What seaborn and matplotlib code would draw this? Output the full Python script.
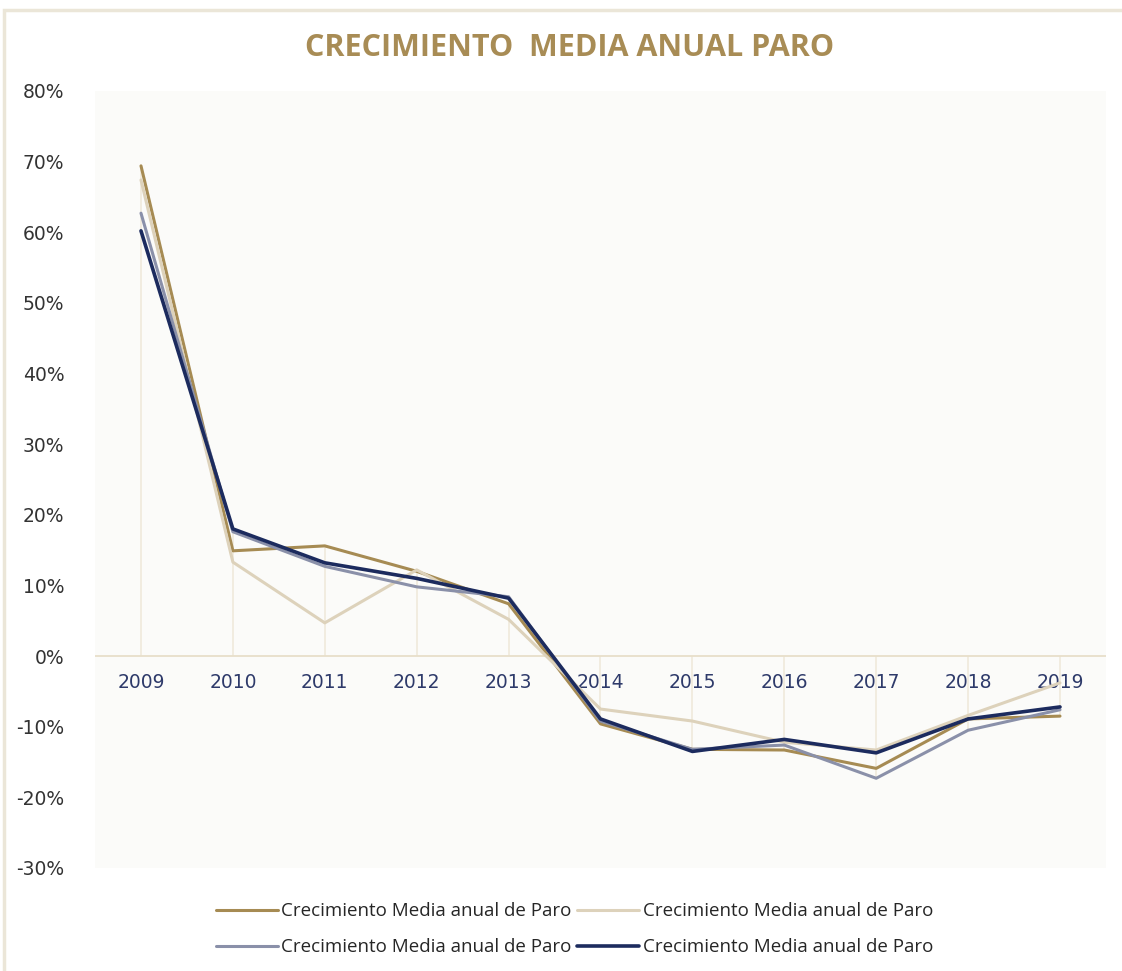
import numpy as np
import pandas as pd
import matplotlib
matplotlib.use("Agg")
import matplotlib.pyplot as plt
import seaborn as sns
from matplotlib.patches import Rectangle
from matplotlib.ticker import FuncFormatter

# ─── Datos ───────────────────────────────────────────────
anios = ["2009", "2010", "2011", "2012", "2013", "2014", "2015", "2016", "2017", "2018", "2019"]
etiqueta = "Crecimiento Media anual de Paro"

serie_oro   = [69.4, 14.9, 15.6, 12.0, 7.4, -9.6, -13.2, -13.3, -15.9, -8.9, -8.5]
serie_beige = [67.4, 13.3,  4.7, 12.2, 5.2, -7.5,  -9.2, -12.2, -13.3, -8.4, -3.8]
serie_gris  = [62.7, 17.6, 12.7,  9.8, 8.4, -9.2, -13.2, -12.6, -17.3, -10.5, -7.6]
serie_azul  = [60.2, 18.0, 13.2, 11.0, 8.2, -8.9, -13.5, -11.8, -13.7, -8.9, -7.2]

y_ticks = list(range(-30, 81, 10))

series = [
    (serie_oro,   "#a68b53", 2.2),
    (serie_beige, "#ddd2bb", 2.2),
    (serie_gris,  "#8a90a9", 2.2),
    (serie_azul,  "#1c2b5e", 2.6),
]

# ─── Figura ──────────────────────────────────────────────
sns.set_style("white")
plt.rcParams['font.family'] = ['DejaVu Sans']

fig = plt.figure(figsize=(11.22, 9.71), dpi=100)
fig.patch.set_facecolor("white")
fig.patches.append(Rectangle((0.004, -0.01), 1.2, 1.0, transform=fig.transFigure,
                             fill=False, edgecolor="#ebe6d8", linewidth=2.5))

ax = fig.add_axes([0.0847, 0.1061, 0.901, 0.8002])
ax.set_facecolor("#fbfbf9")

x = np.arange(len(anios))

# líneas de caída (drop lines)
todas = np.array([s[0] for s in series])
extremo = np.where(np.abs(todas.max(axis=0)) >= np.abs(todas.min(axis=0)),
                   todas.max(axis=0), todas.min(axis=0))
ax.vlines(x, 0, extremo, color="#efe9dc", linewidth=1.2, zorder=1)

for valores, color, lw in series:
    df = pd.DataFrame({"x": x, "y": valores})
    sns.lineplot(data=df, x="x", y="y", ax=ax, color=color, linewidth=lw,
                 label=etiqueta, zorder=3)

ax.axhline(0, color="#e8dfca", linewidth=1.3, zorder=2)

ax.set_xlim(-0.5, len(anios) - 0.5)
ax.set_ylim(-30, 80)
ax.set_yticks(y_ticks)
ax.yaxis.set_major_formatter(FuncFormatter(lambda v, p: f"{v:.0f}%"))
ax.tick_params(axis="y", length=0, pad=22, labelsize=13.5, labelcolor="#333333")

ax.set_xticks(x)
ax.set_xticklabels([])
# etiquetas de años bajo la línea del cero, por debajo de las series
for xi, a in zip(x, anios):
    ax.text(xi, -2.4, a, ha="center", va="top", fontsize=13.5, color="#2e3a6a", zorder=2.5)
ax.tick_params(axis="x", length=0)

ax.set_xlabel("")
ax.set_ylabel("")
for s in ax.spines.values():
    s.set_visible(False)

fig.text(0.508, 0.951, "CRECIMIENTO  MEDIA ANUAL PARO", ha="center", va="center",
         fontsize=22, fontweight="bold", color="#a88c55", family="Open Sans")

ax.get_legend().remove()
handles, labels = ax.get_legend_handles_labels()
# orden por filas: oro, beige / gris, azul
orden = [0, 2, 1, 3]
fig.legend([handles[i] for i in orden], [labels[i] for i in orden],
           loc="center", bbox_to_anchor=(0.512, 0.043), ncol=2,
           frameon=False, handlelength=3.3, handletextpad=0.2,
           columnspacing=0.3, labelspacing=0.95,
           prop={"family": "Open Sans", "size": 13.5})

plt.savefig("out.png", dpi=100)
